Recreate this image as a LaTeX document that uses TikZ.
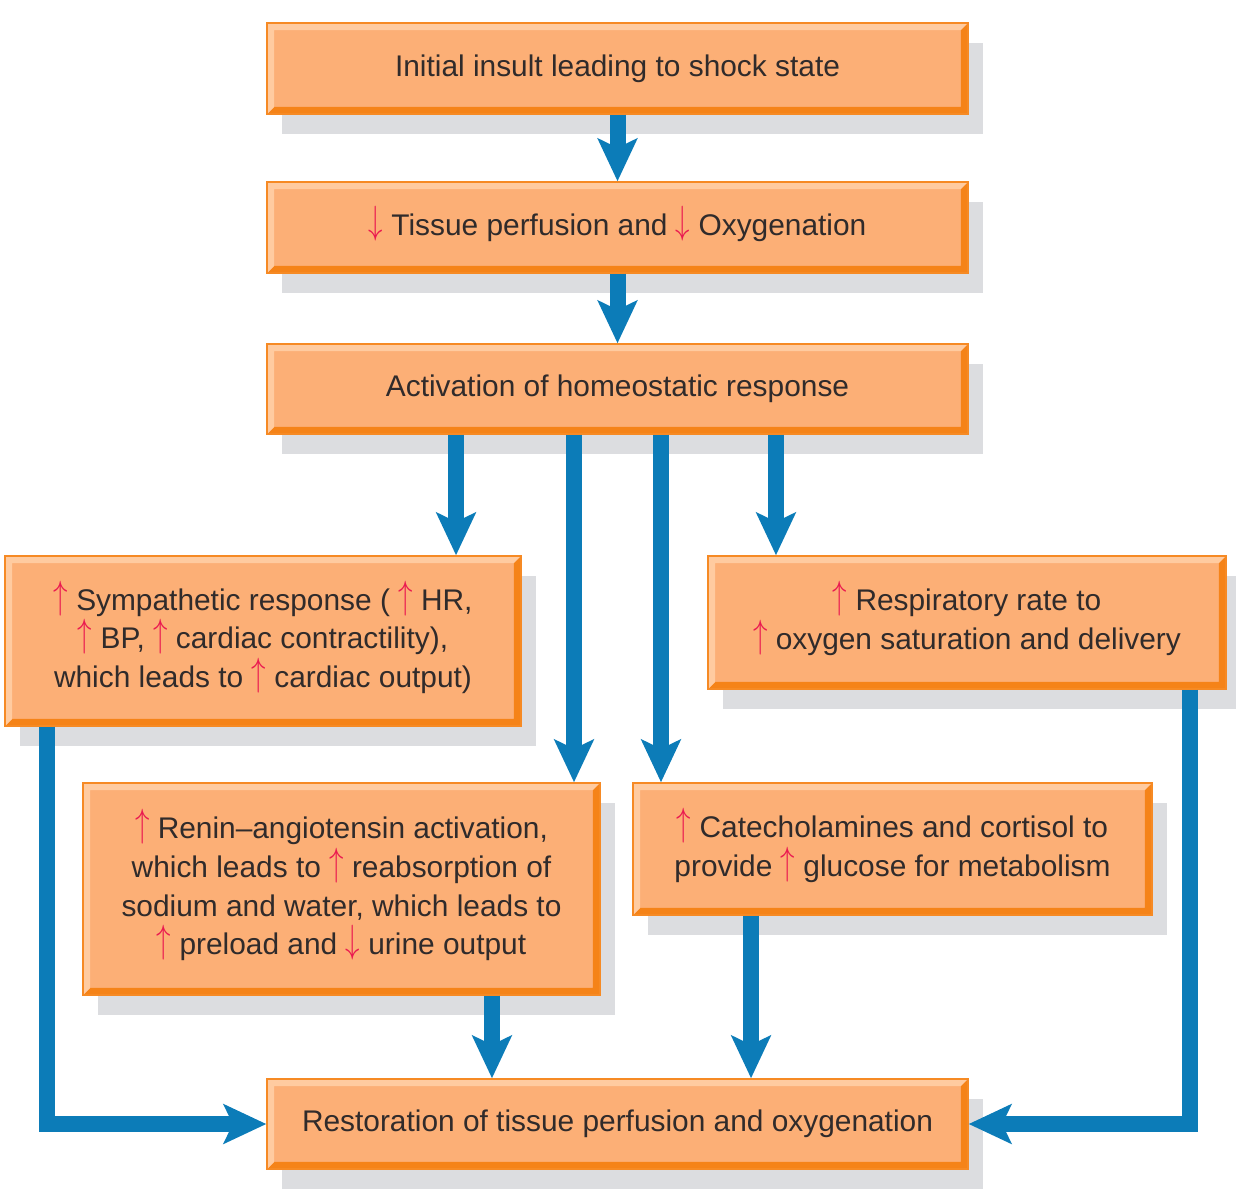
\documentclass[tikz,border=0pt]{standalone}
\usepackage{fontspec}
\setmainfont{Liberation Sans}
\usepackage{xcolor}
\usepackage{graphicx}
\usepackage{tikz}
\usetikzlibrary{arrows.meta, calc, shadows}
\definecolor{boxfill}{HTML}{FCAF76}
\definecolor{boxedge}{HTML}{F68A24}
\definecolor{bevlight}{HTML}{FFCBA0}
\definecolor{bevdark}{HTML}{F58318}
\definecolor{shadowgray}{HTML}{DCDDE0}
\definecolor{flowblue}{HTML}{0C7CB8}
\definecolor{arrowred}{HTML}{EA1A50}
\definecolor{textgray}{HTML}{302B2B}
\newcommand{\upar}{\smash{\raisebox{0.04cm}{\color{arrowred}\scalebox{0.95}[1.3]{$\uparrow$}}}}
\newcommand{\dnar}{\smash{\raisebox{0.04cm}{\color{arrowred}\scalebox{0.95}[1.3]{$\downarrow$}}}}
\tikzset{
    flowbox/.style={rectangle, fill=boxfill, draw=boxedge, line width=0.8pt,
        align=center, text=textgray, font=\fontsize{17}{22}\selectfont,
        general shadow={fill=shadowgray, shadow xshift=0.3cm, shadow yshift=-0.4cm},
        path picture={
            \coordinate (sw) at (path picture bounding box.south west);
            \coordinate (ne) at (path picture bounding box.north east);
            \fill[bevdark] (sw) -- (sw -| ne) -- (ne) -- ([shift={(-4pt,-4pt)}]ne)
                -- ([shift={(-4pt,4pt)}]sw -| ne) -- ([shift={(4pt,4pt)}]sw) -- cycle;
            \fill[bevlight] (sw) -- ([shift={(4pt,4pt)}]sw) -- ([shift={(4pt,-4pt)}]sw |- ne)
                -- ([shift={(-4pt,-4pt)}]ne) -- (ne) -- (sw |- ne) -- cycle;
        }},
    flowarrow/.style={draw=flowblue, line width=0.32cm, line join=miter,
        -{Stealth[length=0.85cm, width=0.78cm, inset=0.18cm]}}
}

\begin{document}
\begin{tikzpicture}[x=0.02cm, y=-0.02cm]
    \useasboundingbox (0,0) rectangle (1236,1200);
    % boxes
    \node[flowbox, minimum width=14.02cm, minimum height=1.82cm] (init) at (617.5,68.5)
        {Initial insult leading to shock state};
    \node[flowbox, minimum width=14.02cm, minimum height=1.82cm] (tissue) at (617.5,227.5)
        {\dnar\ Tissue perfusion and \dnar\ Oxygenation};
    \node[flowbox, minimum width=14.02cm, minimum height=1.80cm] (activ) at (617.5,389)
        {Activation of homeostatic response};
    \node[flowbox, minimum width=10.32cm, minimum height=3.40cm] (symp) at (263,641)
        {\upar\ Sympathetic response ( \upar\ HR,\\ \upar\ BP, \upar\ cardiac contractility),\\ which leads to \upar\ cardiac output)};
    \node[flowbox, minimum width=10.36cm, minimum height=2.66cm] (resp) at (967,622.5)
        {\upar\ Respiratory rate to\\ \upar\ oxygen saturation and delivery};
    \node[flowbox, minimum width=10.34cm, minimum height=4.24cm] (renin) at (341.5,889)
        {\upar\ Renin–angiotensin activation,\\ which leads to \upar\ reabsorption of\\ sodium and water, which leads to\\ \upar\ preload and \dnar\ urine output};
    \node[flowbox, minimum width=10.38cm, minimum height=2.64cm] (catech) at (892.5,849)
        {\upar\ Catecholamines and cortisol to\\ provide \upar\ glucose for metabolism};
    \node[flowbox, minimum width=14.02cm, minimum height=1.80cm] (restore) at (617.5,1124)
        {Restoration of tissue perfusion and oxygenation};
    % connectors
    \draw[flowarrow] (init) -- (tissue);
    \draw[flowarrow] (tissue) -- (activ);
    \draw[flowarrow] ([xshift=-3.23cm]activ.south) -- ([xshift=-3.23cm]activ.south |- symp.north);
    \draw[flowarrow] ([xshift=-0.87cm]activ.south) -- ([xshift=-0.87cm]activ.south |- renin.north);
    \draw[flowarrow] ([xshift=0.87cm]activ.south) -- ([xshift=0.87cm]activ.south |- catech.north);
    \draw[flowarrow] ([xshift=3.17cm]activ.south) -- ([xshift=3.17cm]activ.south |- resp.north);
    \draw[flowarrow] ([xshift=-4.32cm]symp.south) |- (restore.west);
    \draw[flowarrow] ([xshift=4.46cm]resp.south) |- (restore.east);
    \draw[flowarrow] ([xshift=3.01cm]renin.south) -- ([xshift=3.01cm]renin.south |- restore.north);
    \draw[flowarrow] ([xshift=-2.83cm]catech.south) -- ([xshift=-2.83cm]catech.south |- restore.north);
\end{tikzpicture}
\end{document}
